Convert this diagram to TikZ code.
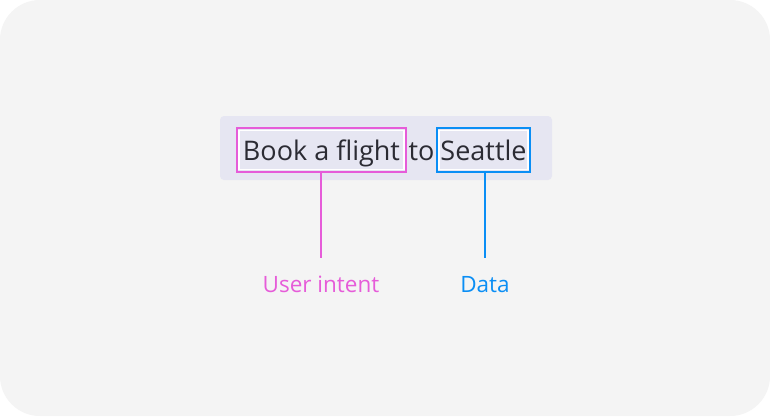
\documentclass[tikz,border=0pt]{standalone}
\usepackage{fontspec}
\setmainfont{Open Sans}
\usetikzlibrary{positioning,fit}
\definecolor{canvas}{HTML}{F4F4F4}
\definecolor{barfill}{HTML}{E6E6F2}
\definecolor{intentpink}{HTML}{E65CD9}
\definecolor{datablue}{HTML}{0A8EF5}
\definecolor{ink}{HTML}{2B2B33}
\tikzset{
  word/.style={draw=white, line width=1.5pt, inner sep=0pt, minimum height=39pt,
    text height=25pt, text depth=5pt, font=\fontsize{27}{31}\selectfont, text=ink},
  tag/.style={draw=#1, line width=2pt, inner sep=1.5pt},
  tagtext/.style={text=#1, inner xsep=0pt, inner ysep=14pt, text height=20pt,
    text depth=4pt, font=\fontsize{22.5}{26}\selectfont},
  lead/.style={draw=#1, line width=1.6pt},
}

\begin{document}
\begin{tikzpicture}[x=1pt,y=-1pt]
\useasboundingbox (0,0) rectangle (770,416);
\fill[white] (0,0) rectangle (770,416);
\fill[canvas, rounded corners=40pt] (0,0) rectangle (770,416);

% sentence strip
\fill[barfill, rounded corners=4pt] (220,116) rectangle (552,180);

% highlighted words
\node[word, minimum width=165pt] (book) at (321.5,150) {Book a flight};
\node[tag=intentpink, fit=(book)] (intent) {};
\node[word, minimum width=89pt] (seattle) at (483.5,150) {Seattle};
\node[tag=datablue, fit=(seattle)] (data) {};
\node[word, draw=none, minimum width=0pt] (to) at (421.5,150) {to};

% labels below
\node[tagtext=intentpink] (intentlbl) at (321,284) {User intent};
\node[tagtext=datablue] (datalbl) at (485,284) {Data};
\draw[lead=intentpink] (intentlbl.north |- intent.south) -- (intentlbl.north);
\draw[lead=datablue] (datalbl.north |- data.south) -- (datalbl.north);

\end{tikzpicture}
\end{document}
